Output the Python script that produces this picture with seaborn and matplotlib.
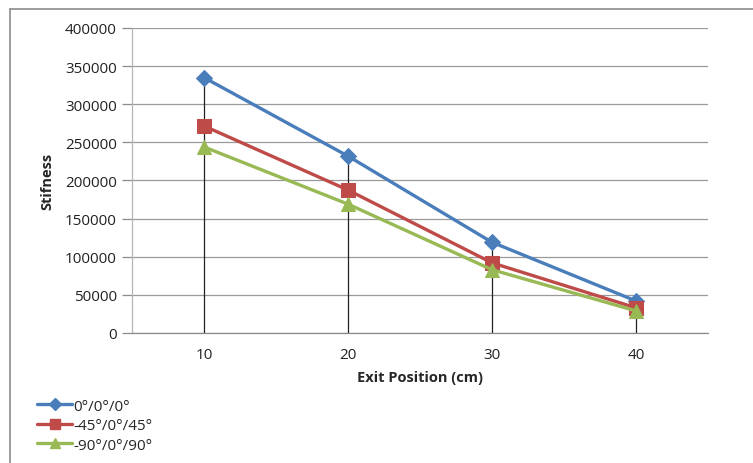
import matplotlib
matplotlib.use("Agg")
import matplotlib.pyplot as plt
import seaborn as sns
import pandas as pd
from matplotlib.lines import Line2D

positions = [10, 20, 30, 40]
series_names = ["0°/0°/0°", "-45°/0°/45°", "-90°/0°/90°"]
s_000 = [335000, 232000, 119000, 42000]
s_45 = [271500, 187500, 92000, 33000]
s_90 = [244000, 169000, 83000, 29000]
y_ticks = [0, 50000, 100000, 150000, 200000, 250000, 300000, 350000, 400000]

colors = ["#4A7EBB", "#BE4B48", "#98B954"]
markers = ["D", "s", "^"]
msizes = [8, 10, 10]

sns.set_theme(style="white")
plt.rcParams["font.family"] = ["Open Sans", "DejaVu Sans"]

rows = []
for name, vals in zip(series_names, [s_000, s_45, s_90]):
    for p, v in zip(positions, vals):
        rows.append({"pos": p, "val": v, "series": name})
df = pd.DataFrame(rows)

fig = plt.figure(figsize=(7.53, 4.64), dpi=100)
ax = fig.add_axes([0.1753, 0.2802, 0.7649, 0.6573])

# outer chart frame (left and top visible only)
fx = 9.5 / 753
fy = 1 - 9.5 / 464
fig.add_artist(Line2D([fx, fx], [0, fy], transform=fig.transFigure, color="#8C8C8C", linewidth=1.2))
fig.add_artist(Line2D([fx, 1.0], [fy, fy], transform=fig.transFigure, color="#8C8C8C", linewidth=1.2))

# drop lines
tops = df.groupby("pos")["val"].max()
ax.vlines(tops.index, 0, tops.values, color="#222222", linewidth=0.9, zorder=1)

for name, c, m, ms in zip(series_names, colors, markers, msizes):
    sub = df[df["series"] == name]
    sns.lineplot(data=sub, x="pos", y="val", ax=ax, color=c, marker=m, markersize=ms,
                 markeredgecolor=c, linewidth=2.4, legend=False, zorder=3)

ax.set_xlim(5, 45)
ax.set_ylim(0, 400000)
ax.set_yticks(y_ticks)
ax.set_yticklabels([str(t) for t in y_ticks])
ax.set_xticks(positions)
ax.set_xticklabels([str(p) for p in positions])
ax.yaxis.grid(True, color="#9A9A9A", linewidth=0.9)
ax.xaxis.grid(False)
ax.set_axisbelow(True)
for s in ["top", "right"]:
    ax.spines[s].set_visible(False)
ax.spines["left"].set_color("#B5B5B5")
ax.spines["bottom"].set_color("#8A8A8A")
ax.spines["left"].set_linewidth(0.9)
ax.spines["bottom"].set_linewidth(0.9)
ax.tick_params(axis="y", which="major", left=True, length=7, width=0.9, color="#8A8A8A",
               labelsize=11, labelcolor="#222222", pad=4)
ax.tick_params(axis="x", which="major", bottom=False, labelsize=11, labelcolor="#222222", pad=4)
ax.set_xlabel("Exit Position (cm)", fontsize=10.5, fontweight="bold", labelpad=6)
ax.set_ylabel("Stifness", fontsize=10.5, fontweight="bold")
ax.yaxis.set_label_coords(-0.134, 0.5)

handles = [Line2D([0], [0], color=c, marker=m, markersize=ms * 0.72, markeredgecolor=c, linewidth=2.4)
           for c, m, ms in zip(colors, markers, msizes)]
fig.legend(handles, series_names, loc="upper left", bbox_to_anchor=(0.041, 0.152),
           frameon=False, fontsize=11, handlelength=2.3, handletextpad=0.1,
           labelspacing=0.3, borderaxespad=0)

fig.savefig("out.png", dpi=100)
